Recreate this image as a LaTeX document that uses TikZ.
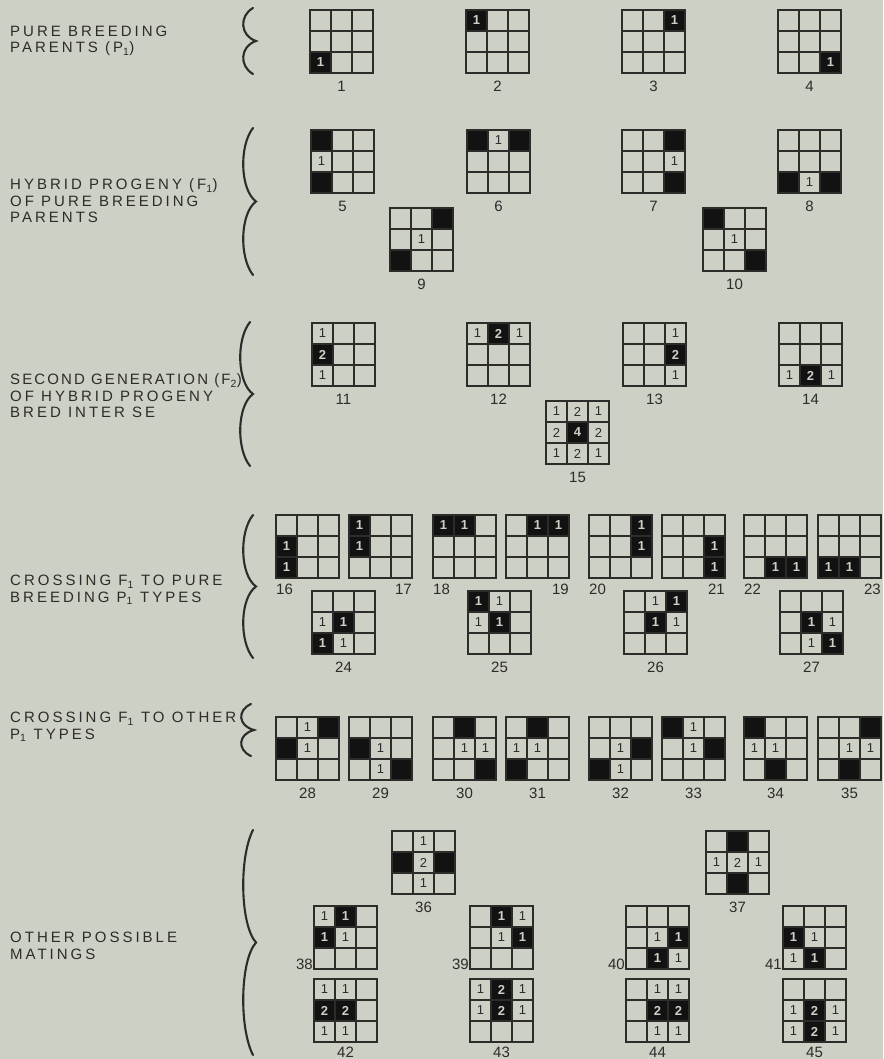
\documentclass[tikz,border=0pt]{standalone}
\usepackage{fontspec}
\usepackage{xcolor}
\usepackage{tikz}
\usetikzlibrary{positioning}
\newfontfamily\letterfont[LetterSpace=20]{Liberation Sans}
\newfontfamily\tightletterfont[LetterSpace=14]{Liberation Sans}
\newfontfamily\digitfont{Liberation Sans}
\definecolor{matingpaper}{RGB}{205,208,197}
\definecolor{matingink}{RGB}{44,44,42}
\definecolor{matingblack}{RGB}{18,18,18}
\tikzset{
  grid line/.style={draw=matingink, line width=1.2pt, line cap=rect},
  darkcell/.style={fill=matingblack, text=matingpaper, minimum size=21pt, inner sep=0pt,
    font=\digitfont\bfseries\fontsize{13}{13}\selectfont},
  opencell/.style={text=matingink, minimum size=21pt, inner sep=0pt,
    font=\digitfont\fontsize{13}{13}\selectfont},
  grid label/.style={text=matingink, inner sep=0pt, font=\digitfont\fontsize{15}{15}\selectfont},
  section text/.style={text=matingink, align=left, anchor=west, inner sep=0pt,
    font=\letterfont\fontsize{15}{16.5}\selectfont},
  section brace/.style={draw=matingink, line width=2.1pt, line cap=round},
}
% 3x3 grid: name, top-left corner, cells row/col/style/text
\newcommand{\matgrid}[3]{%
  \begin{scope}[shift={(#2)}]
    \foreach \row/\col/\kind/\val in {#3}
      \node[\kind] (#1-\row\col) at ({21*\col-10.5},{21*\row-10.5}) {\val};
    \foreach \i in {0,21,42,63} {
      \draw[grid line] (\i,0) -- (\i,63);
      \draw[grid line] (0,\i) -- (63,\i);
    }
    \coordinate (#1-s) at (31.5,63);
    \coordinate (#1-sw) at (0,63);
    \coordinate (#1-se) at (63,63);
  \end{scope}}
% hand drawn brace: x, top, bottom
\newcommand{\secbrace}[3]{%
  \draw[section brace] ({#1+10},#2)
    .. controls ({#1-4},{#2+0.12*(#3-#2)}) and ({#1-3},{#2+0.42*(#3-#2)}) .. ({#1+13},{(#2+#3)/2})
    .. controls ({#1-3},{#3-0.42*(#3-#2)}) and ({#1-4},{#3-0.12*(#3-#2)}) .. ({#1+10},#3);}

\begin{document}
\begin{tikzpicture}[x=1pt,y=-1pt]
  \fill[matingpaper] (0,0) rectangle (883,1059);
  \useasboundingbox (0,0) rectangle (883,1059);

  % section titles
  \node[section text] (pure) at (10,41) {PURE BREEDING\\PARENTS (P\textsubscript{1})};
  \node[section text] (hybrid) at (10,201) {HYBRID PROGENY (F\textsubscript{1})\\OF PURE BREEDING\\PARENTS};
  \node[section text] (second) at (10,396) {{\tightletterfont SECOND GENERATION (F\textsubscript{2})}\\OF HYBRID PROGENY\\BRED INTER SE};
  \node[section text] (crosspure) at (10,590) {CROSSING F\textsubscript{1} TO PURE\\BREEDING P\textsubscript{1} TYPES};
  \node[section text] (crossother) at (10,727) {CROSSING F\textsubscript{1} TO OTHER\\P\textsubscript{1} TYPES};
  \node[section text] (other) at (10,946) {OTHER POSSIBLE\\MATINGS};

  \secbrace{243}{8}{74}
  \secbrace{243}{128}{275}
  \secbrace{240}{322}{466}
  \secbrace{243}{515}{658}
  \secbrace{241}{704}{756}
  \secbrace{243}{830}{1055}

  % pure breeding parents
  \matgrid{g1}{310,10}{3/1/darkcell/1}
  \matgrid{g2}{466,10}{1/1/darkcell/1}
  \matgrid{g3}{622,10}{1/3/darkcell/1}
  \matgrid{g4}{778,10}{3/3/darkcell/1}

  % F1
  \matgrid{g5}{311,130}{1/1/darkcell/{},2/1/opencell/1,3/1/darkcell/{}}
  \matgrid{g6}{467,130}{1/1/darkcell/{},1/2/opencell/1,1/3/darkcell/{}}
  \matgrid{g7}{622,130}{1/3/darkcell/{},2/3/opencell/1,3/3/darkcell/{}}
  \matgrid{g8}{778,130}{3/1/darkcell/{},3/2/opencell/1,3/3/darkcell/{}}
  \matgrid{g9}{390,208}{1/3/darkcell/{},2/2/opencell/1,3/1/darkcell/{}}
  \matgrid{g10}{703,208}{1/1/darkcell/{},2/2/opencell/1,3/3/darkcell/{}}

  % F2
  \matgrid{g11}{312,323}{1/1/opencell/1,2/1/darkcell/2,3/1/opencell/1}
  \matgrid{g12}{467,323}{1/1/opencell/1,1/2/darkcell/2,1/3/opencell/1}
  \matgrid{g13}{623,323}{1/3/opencell/1,2/3/darkcell/2,3/3/opencell/1}
  \matgrid{g14}{779,323}{3/1/opencell/1,3/2/darkcell/2,3/3/opencell/1}
  \matgrid{g15}{546,401}{1/1/opencell/1,1/2/opencell/2,1/3/opencell/1,
    2/1/opencell/2,2/2/darkcell/4,2/3/opencell/2,3/1/opencell/1,3/2/opencell/2,3/3/opencell/1}

  % F1 x pure P1
  \matgrid{g16}{276,515}{2/1/darkcell/1,3/1/darkcell/1}
  \matgrid{g17}{349,515}{1/1/darkcell/1,2/1/darkcell/1}
  \matgrid{g18}{433,515}{1/1/darkcell/1,1/2/darkcell/1}
  \matgrid{g19}{506,515}{1/2/darkcell/1,1/3/darkcell/1}
  \matgrid{g20}{589,515}{1/3/darkcell/1,2/3/darkcell/1}
  \matgrid{g21}{662,515}{2/3/darkcell/1,3/3/darkcell/1}
  \matgrid{g22}{744,515}{3/2/darkcell/1,3/3/darkcell/1}
  \matgrid{g23}{818,515}{3/1/darkcell/1,3/2/darkcell/1}
  \matgrid{g24}{312,591}{2/1/opencell/1,2/2/darkcell/1,3/1/darkcell/1,3/2/opencell/1}
  \matgrid{g25}{468,591}{1/1/darkcell/1,1/2/opencell/1,2/1/opencell/1,2/2/darkcell/1}
  \matgrid{g26}{624,591}{1/2/opencell/1,1/3/darkcell/1,2/2/darkcell/1,2/3/opencell/1}
  \matgrid{g27}{780,591}{2/2/darkcell/1,2/3/opencell/1,3/2/opencell/1,3/3/darkcell/1}

  % F1 x other P1
  \matgrid{g28}{276,717}{1/2/opencell/1,1/3/darkcell/{},2/1/darkcell/{},2/2/opencell/1}
  \matgrid{g29}{349,717}{2/1/darkcell/{},2/2/opencell/1,3/2/opencell/1,3/3/darkcell/{}}
  \matgrid{g30}{433,717}{1/2/darkcell/{},2/2/opencell/1,2/3/opencell/1,3/3/darkcell/{}}
  \matgrid{g31}{506,717}{1/2/darkcell/{},2/1/opencell/1,2/2/opencell/1,3/1/darkcell/{}}
  \matgrid{g32}{589,717}{2/2/opencell/1,2/3/darkcell/{},3/1/darkcell/{},3/2/opencell/1}
  \matgrid{g33}{662,717}{1/1/darkcell/{},1/2/opencell/1,2/2/opencell/1,2/3/darkcell/{}}
  \matgrid{g34}{744,717}{1/1/darkcell/{},2/1/opencell/1,2/2/opencell/1,3/2/darkcell/{}}
  \matgrid{g35}{818,717}{1/3/darkcell/{},2/2/opencell/1,2/3/opencell/1,3/2/darkcell/{}}

  % other matings
  \matgrid{g36}{392,831}{1/2/opencell/1,2/1/darkcell/{},2/2/opencell/2,2/3/darkcell/{},3/2/opencell/1}
  \matgrid{g37}{706,831}{1/2/darkcell/{},2/1/opencell/1,2/2/opencell/2,2/3/opencell/1,3/2/darkcell/{}}
  \matgrid{g38}{314,906}{1/1/opencell/1,1/2/darkcell/1,2/1/darkcell/1,2/2/opencell/1}
  \matgrid{g39}{470,906}{1/2/darkcell/1,1/3/opencell/1,2/2/opencell/1,2/3/darkcell/1}
  \matgrid{g40}{626,906}{2/2/opencell/1,2/3/darkcell/1,3/2/darkcell/1,3/3/opencell/1}
  \matgrid{g41}{783,906}{2/1/darkcell/1,2/2/opencell/1,3/1/opencell/1,3/2/darkcell/1}
  \matgrid{g42}{314,979}{1/1/opencell/1,1/2/opencell/1,2/1/darkcell/2,2/2/darkcell/2,3/1/opencell/1,3/2/opencell/1}
  \matgrid{g43}{470,979}{1/1/opencell/1,1/2/darkcell/2,1/3/opencell/1,2/1/opencell/1,2/2/darkcell/2,2/3/opencell/1}
  \matgrid{g44}{626,979}{1/2/opencell/1,1/3/opencell/1,2/2/darkcell/2,2/3/darkcell/2,3/2/opencell/1,3/3/opencell/1}
  \matgrid{g45}{783,979}{2/1/opencell/1,2/2/darkcell/2,2/3/opencell/1,3/1/opencell/1,3/2/darkcell/2,3/3/opencell/1}

  % numbers
  \foreach \g in {1,...,15}
    \node[grid label, below=8pt of g\g-s] (n\g) {\g};
  \foreach \g in {24,...,37}
    \node[grid label, below=8pt of g\g-s] (n\g) {\g};
  \foreach \g in {16,18,20,22}
    \node[grid label, anchor=north west] (n\g) at ([yshift=-6pt]g\g-sw) {\g};
  \foreach \g in {17,19,21,23}
    \node[grid label, anchor=north east] (n\g) at ([yshift=-6pt]g\g-se) {\g};
  \foreach \g in {38,...,41}
    \node[grid label, anchor=base east] (n\g) at ([xshift=-1pt]g\g-sw) {\g};
  \foreach \g in {42,...,45}
    \node[grid label, below=5pt of g\g-s] (n\g) {\g};
\end{tikzpicture}
\end{document}
